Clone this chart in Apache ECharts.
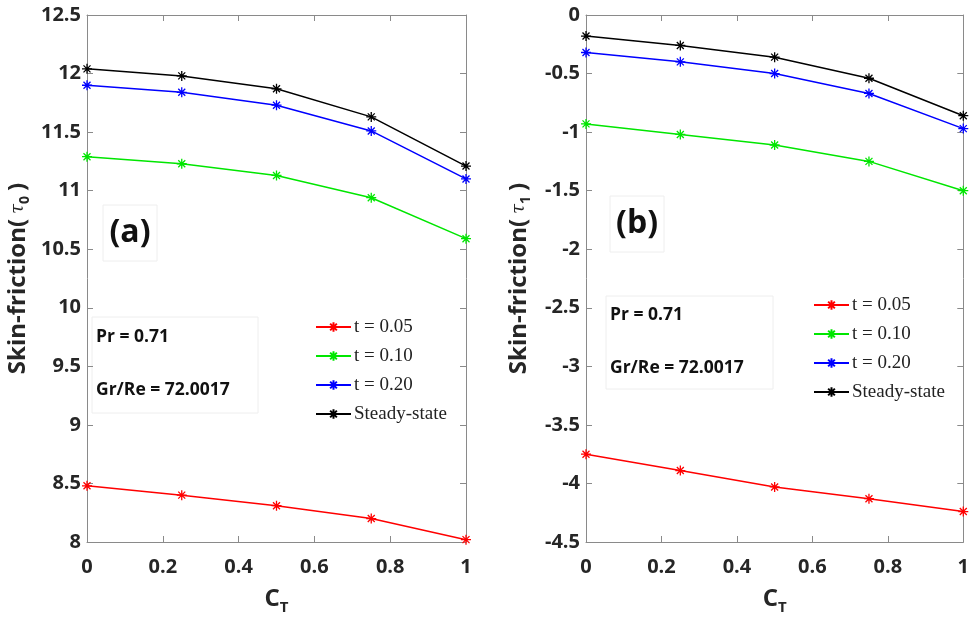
<!DOCTYPE html>
<html>
<head>
<meta charset="utf-8">
<script src="https://cdn.jsdelivr.net/npm/echarts@6/dist/echarts.min.js"></script>
<style>html,body{margin:0;padding:0;background:#fff;}#c{width:972px;height:623px;}</style>
</head>
<body>
<div id="c"></div>
<script>
// ---- data ----
var ctValues = [0, 0.25, 0.5, 0.75, 1];
var seriesNames = ['t = 0.05', 't = 0.10', 't = 0.20', 'Steady-state'];
var seriesColors = ['#ff0000', '#00e600', '#0000ff', '#000000'];
// panel (a): tau_0
var tau0_t005 = [8.48, 8.40, 8.31, 8.20, 8.02];
var tau0_t010 = [11.29, 11.23, 11.13, 10.94, 10.59];
var tau0_t020 = [11.90, 11.84, 11.73, 11.51, 11.10];
var tau0_steady = [12.04, 11.98, 11.87, 11.63, 11.21];
// panel (b): tau_1
var tau1_t005 = [-3.75, -3.89, -4.03, -4.13, -4.24];
var tau1_t010 = [-0.93, -1.02, -1.11, -1.25, -1.50];
var tau1_t020 = [-0.32, -0.40, -0.50, -0.67, -0.97];
var tau1_steady = [-0.18, -0.26, -0.36, -0.54, -0.86];
var xTicks = {min: 0, max: 1, interval: 0.2};
var yTicksA = {min: 8, max: 12.5, interval: 0.5};
var yTicksB = {min: -4.5, max: 0, interval: 0.5};

var dataA = [tau0_t005, tau0_t010, tau0_t020, tau0_steady];
var dataB = [tau1_t005, tau1_t010, tau1_t020, tau1_steady];

var asterisk = 'path://M0,-10L0,10M-10,0L10,0M-7,-7L7,7M-7,7L7,-7';
var tickFont = '"Open Sans", "DejaVu Sans", sans-serif';
var txtColor = '#262626';
var axisColor = '#8a8a8a';

function pairs(ys) { return ctValues.map(function (x, i) { return [x, ys[i]]; }); }

function xAxisDef(grid, pos) {
  var main = pos === 'bottom';
  return {
    type: 'value', gridIndex: grid, position: pos,
    min: xTicks.min, max: xTicks.max, interval: xTicks.interval,
    name: main ? '{c|C}{s|T}' : '', nameLocation: 'middle', nameGap: 42,
    nameTextStyle: {rich: {
      c: {fontFamily: tickFont, fontWeight: 'bold', fontSize: 24, color: txtColor},
      s: {fontFamily: tickFont, fontWeight: 'bold', fontSize: 15, color: txtColor, padding: [16, 0, 0, 0]}
    }},
    axisLine: {show: true, onZero: false, lineStyle: {color: axisColor, width: 1}},
    axisTick: {show: true, inside: true, length: 6, lineStyle: {color: axisColor}},
    axisLabel: {show: main, margin: 15, fontFamily: tickFont, fontWeight: 'bold', fontSize: 20, color: txtColor,
      formatter: function (v) { return String(+v.toFixed(2)); }},
    splitLine: {show: false}
  };
}
function yAxisDef(grid, pos, t, sub) {
  var main = pos === 'left';
  return {
    type: 'value', gridIndex: grid, position: pos,
    min: t.min, max: t.max, interval: t.interval,
    name: main ? '{b|Skin-friction(}{sp| }{t|τ}{s|' + sub + '}{sp| }{b|)}' : '',
    nameLocation: 'middle', nameGap: main ? (grid === 0 ? 55 : 53) : 0, nameRotate: 90,
    nameTextStyle: {rich: {
      b: {fontFamily: tickFont, fontWeight: 'bold', fontSize: 24, color: txtColor},
      sp: {fontSize: 18},
      t: {fontFamily: '"DejaVu Serif", serif', fontStyle: 'italic', fontSize: 18, color: txtColor},
      s: {fontFamily: tickFont, fontWeight: 'bold', fontSize: 14, color: txtColor, padding: [14, 0, 0, 0]}
    }},
    axisLine: {show: true, onZero: false, lineStyle: {color: axisColor, width: 1}},
    axisTick: {show: true, inside: true, length: 6, lineStyle: {color: axisColor}},
    axisLabel: {show: main, margin: 6, fontFamily: tickFont, fontWeight: 'bold', fontSize: 20, color: txtColor},
    splitLine: {show: false}
  };
}

var series = [];
[dataA, dataB].forEach(function (set, g) {
  set.forEach(function (ys, i) {
    series.push({
      type: 'line', name: seriesNames[i], xAxisIndex: g * 2, yAxisIndex: g * 2,
      data: pairs(ys), symbol: asterisk, symbolSize: 10, showSymbol: true,
      lineStyle: {color: seriesColors[i], width: 1.5},
      itemStyle: {color: seriesColors[i], borderColor: seriesColors[i], borderWidth: 1.3},
      emphasis: {disabled: true}, animation: false, z: 3 + i
    });
  });
});

function legendDef(left, top) {
  return {
    data: seriesNames, orient: 'vertical', left: left, top: top,
    itemWidth: 35, itemHeight: 12, itemGap: 9,
    textStyle: {fontFamily: '"Liberation Serif", "DejaVu Serif", serif', fontSize: 19, color: '#222', padding: [0, 0, 0, -2], lineHeight: 20},
    selectedMode: false
  };
}

function labelBox(x, y, w, h, text, size) {
  return [
    {type: 'rect', shape: {x: x, y: y, width: w, height: h}, style: {fill: 'none', stroke: '#eeeeee', lineWidth: 1}},
    {type: 'text', x: x + w / 2, y: y + h / 2, style: {text: text, fontFamily: tickFont, fontWeight: 'bold', fontSize: size, fill: '#111', align: 'center', verticalAlign: 'middle'}}
  ];
}
function paramBox(x, y, w, h, ty1, ty2) {
  return [
    {type: 'rect', shape: {x: x, y: y, width: w, height: h}, style: {fill: 'none', stroke: '#eeeeee', lineWidth: 1}},
    {type: 'text', x: x + 4, y: ty1, style: {text: 'Pr = 0.71', fontFamily: tickFont, fontWeight: 'bold', fontSize: 17.5, fill: '#111', verticalAlign: 'middle'}},
    {type: 'text', x: x + 4, y: ty2, style: {text: 'Gr/Re = 72.0017', fontFamily: tickFont, fontWeight: 'bold', fontSize: 17.5, fill: '#111', verticalAlign: 'middle'}}
  ];
}

var option = {
  backgroundColor: '#fff',
  animation: false,
  grid: [
    {left: 87, right: 506, top: 15, bottom: 81},
    {left: 586, right: 8, top: 15, bottom: 81}
  ],
  xAxis: [xAxisDef(0, 'bottom'), xAxisDef(0, 'top'), xAxisDef(1, 'bottom'), xAxisDef(1, 'top')],
  yAxis: [yAxisDef(0, 'left', yTicksA, '0'), yAxisDef(0, 'right', yTicksA, '0'),
          yAxisDef(1, 'left', yTicksB, '1'), yAxisDef(1, 'right', yTicksB, '1')],
  legend: [legendDef(310, 312), legendDef(808, 290)],
  series: series,
  graphic: [].concat(
    labelBox(103, 205, 54, 56, '(a)', 32),
    labelBox(610, 196, 54, 56, '(b)', 32),
    paramBox(92, 317, 166, 96, 337, 390),
    paramBox(606, 296, 167, 93, 315, 368)
  )
};
var chart = echarts.init(document.getElementById('c'), null, {renderer: 'canvas'});
chart.setOption(option);
</script>
</body>
</html>
